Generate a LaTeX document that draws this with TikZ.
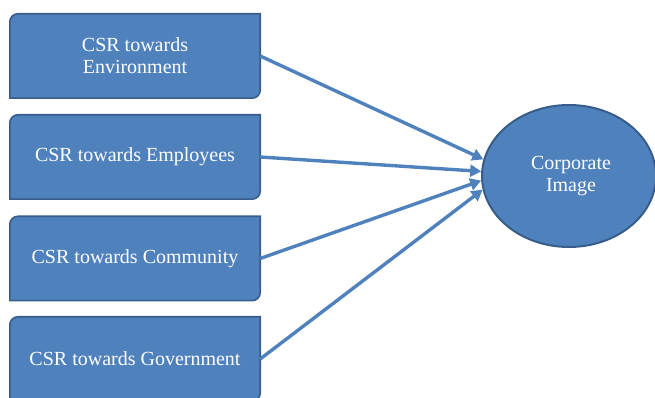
\documentclass[tikz,border=0pt]{standalone}
\usepackage{fontspec}
\setmainfont{Liberation Serif}
\usetikzlibrary{arrows.meta,shapes.geometric,backgrounds,calc}
\definecolor{csrfill}{HTML}{4F81BD}
\definecolor{csrline}{HTML}{385D8A}
\begin{document}
\begin{tikzpicture}[x=1pt,y=1pt,
  csrbox/.style={minimum width=250pt, minimum height=84pt, inner sep=0pt,
    text=white, font=\fontsize{20}{22}\selectfont, align=center},
  boxshape/.style={fill=csrfill, draw=csrline, line width=1.6pt},
  target/.style={ellipse, minimum width=174pt, minimum height=142pt, inner sep=0pt,
    fill=csrfill, draw=csrline, line width=2pt, text=white,
    font=\fontsize{20}{22}\selectfont, align=center},
  link/.style={draw=csrfill, line width=3.4pt,
    -{Triangle[length=11pt,width=12pt]}}]
\useasboundingbox (0,0) rectangle (655,398);

% the four CSR dimensions
\node[csrbox] (env) at (135,342) {CSR towards\\Environment};
\node[csrbox] (emp) at (135,241) {CSR towards Employees};
\node[csrbox] (com) at (135,139.5) {CSR towards Community};
\node[csrbox] (gov) at (135,39) {CSR towards Government};

% outcome
\node[target] (ci) at (569,222) {\hspace*{4pt}Corporate\\\hspace*{4pt}Image};

% box outlines: rounded top-left and bottom-right corners
\begin{scope}[on background layer]
  \clip (0,0) rectangle (655,398);
  \foreach \b in {env,emp,com,gov}{
    \draw[boxshape] (\b.south west)
      -- ($(\b.north west)+(0,-8)$) arc[start angle=180,end angle=90,radius=8pt]
      -- (\b.north east)
      -- ($(\b.south east)+(0,8)$) arc[start angle=0,end angle=-90,radius=8pt]
      -- cycle;
  }
\end{scope}

% effects on corporate image
\draw[link] (env.east) -- (ci.169.5);
\draw[link] (emp.east) -- (ci.177);
\draw[link] (com.east) -- (ci.183.5);
\draw[link] (gov.east) -- (ci.189.5);
\end{tikzpicture}
\end{document}
